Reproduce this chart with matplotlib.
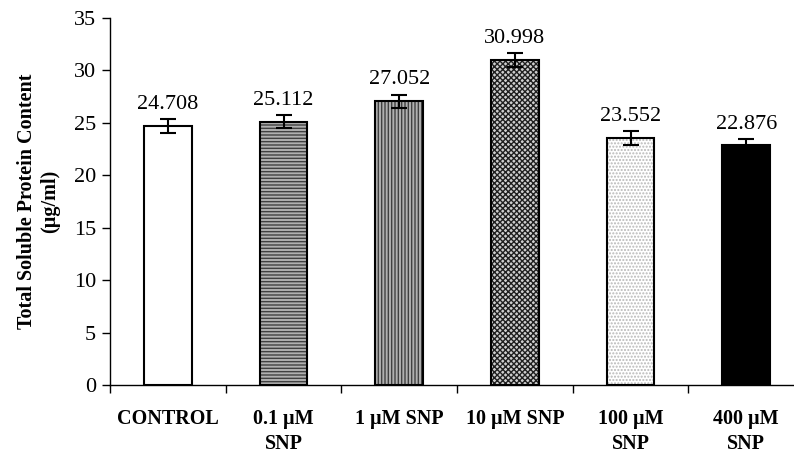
import matplotlib
matplotlib.use('Agg')
import matplotlib.pyplot as plt
import numpy as np

plt.rcParams['font.family'] = ['Liberation Serif', 'DejaVu Serif']
plt.rcParams['hatch.linewidth'] = 1.0

categories = ['CONTROL', '0.1 \u00b5M\nSNP', '1 \u00b5M SNP', '10 \u00b5M SNP', '100 \u00b5M\nSNP', '400 \u00b5M\nSNP']
values = [24.708, 25.112, 27.052, 30.998, 23.552, 22.876]
errors = [0.65, 0.65, 0.65, 0.65, 0.65, 0.6]

faces = ['white', '#b0b0b0', '#b0b0b0', '#cfcfcf', 'white', 'black']
hatches = ['', '-----', '|||||', 'xxxxxx', '.....', '']
hatch_cols = ['white', '#404040', '#404040', '#202020', '#b8b8b8', 'black']

fig = plt.figure(figsize=(7.94, 4.57), dpi=100)
# axes runs a little past the right edge, as in the original
ax = fig.add_axes([110 / 794, 1 - 385 / 457, 694 / 794, 367 / 457])

x = np.arange(len(categories))
w = 0.41
for i in range(len(x)):
    ax.bar(x[i], values[i], w, color=faces[i], hatch=hatches[i],
           edgecolor=hatch_cols[i], linewidth=0)
ax.bar(x, values, w, fill=False, edgecolor='black', linewidth=1.5)
ax.errorbar(x, values, yerr=errors, fmt='none', ecolor='black',
            elinewidth=1.5, capsize=5.5, capthick=1.5)

for i in range(len(x)):
    ax.text(x[i], values[i] + errors[i] + 0.5, '%.3f' % values[i],
            ha='center', va='bottom', fontsize=16)

ax.set_xlim(-0.5, len(x) - 0.5)
ax.set_ylim(0, 35)
ax.set_yticks(range(0, 36, 5))
ax.set_xticks(x)
ax.set_xticklabels(categories, fontsize=14.5, fontweight='bold', linespacing=1.35)
ax.set_xticks(np.arange(-0.5, len(x), 1.0), minor=True)
ax.tick_params(axis='x', which='major', length=0, pad=17)
ax.tick_params(axis='x', which='minor', direction='out', length=6, width=1)
ax.tick_params(axis='y', direction='out', length=6, width=1, labelsize=16, pad=4)
ax.spines['top'].set_visible(False)
ax.spines['right'].set_visible(False)
ax.spines['left'].set_linewidth(1.0)
ax.spines['bottom'].set_linewidth(1.0)
ax.set_ylabel('Total Soluble Protein Content\n(\u00b5g/ml)', fontsize=14.5,
              fontweight='bold', labelpad=10)

plt.savefig('out.png', dpi=100)
